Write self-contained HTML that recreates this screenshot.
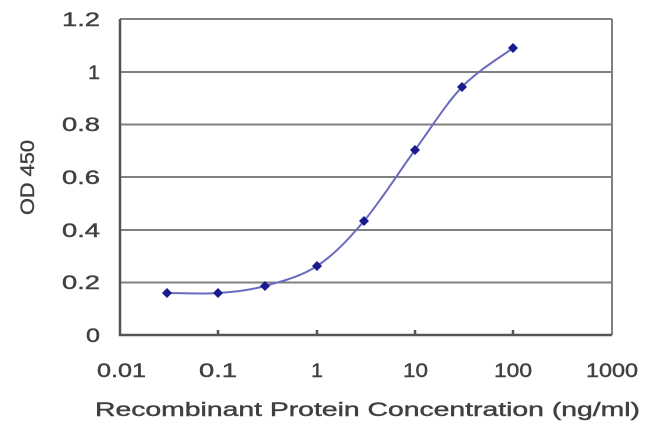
<!DOCTYPE html>
<html><head><style>body{margin:0;background:#fff}svg{display:block}text{font-family:"Liberation Sans",sans-serif;fill:#404040;stroke:#404040;stroke-width:0.4}</style></head>
<body>
<svg width="650" height="432" viewBox="0 0 650 432">
<g stroke="#808080" stroke-width="2">
<line x1="120" y1="19" x2="612" y2="19"/>
<line x1="120" y1="72" x2="612" y2="72"/>
<line x1="120" y1="124.5" x2="612" y2="124.5"/>
<line x1="120" y1="177" x2="612" y2="177"/>
<line x1="120" y1="230" x2="612" y2="230"/>
<line x1="120" y1="282.5" x2="612" y2="282.5"/>
<line x1="612" y1="19" x2="612" y2="335"/>
</g>
<g stroke="#555" stroke-width="2.5">
<line x1="120" y1="19" x2="120" y2="336"/>
<line x1="119" y1="335" x2="612" y2="335"/>
<line x1="218" y1="330" x2="218" y2="335"/><line x1="317" y1="330" x2="317" y2="335"/>
<line x1="415" y1="330" x2="415" y2="335"/><line x1="513" y1="330" x2="513" y2="335"/>
</g>
<path d="M167,293 C175.5,293 201.7,294.2 218,293 C234.3,291.8 248.5,290.5 265,286 C281.5,281.5 300.5,276.8 317,266 C333.5,255.2 347.7,240.3 364,221 C380.3,201.7 398.7,172.3 415,150 C431.3,127.7 445.7,104 462,87 C478.3,70 504.5,54.5 513,48" fill="none" stroke="#6a6ac0" stroke-width="2"/>
<g fill="#1a1a8c">
<path d="M167,288 l5,5 -5,5 -5,-5z"/><path d="M218,288 l5,5 -5,5 -5,-5z"/><path d="M265,281 l5,5 -5,5 -5,-5z"/><path d="M317,261 l5,5 -5,5 -5,-5z"/><path d="M364,216 l5,5 -5,5 -5,-5z"/><path d="M415,145 l5,5 -5,5 -5,-5z"/><path d="M462,82 l5,5 -5,5 -5,-5z"/><path d="M513,43 l5,5 -5,5 -5,-5z"/>
</g>
<g font-size="19" text-anchor="end">
<text x="100" y="26" textLength="38" lengthAdjust="spacingAndGlyphs">1.2</text>
<text x="100" y="79" textLength="12" lengthAdjust="spacingAndGlyphs">1</text>
<text x="100" y="131" textLength="38" lengthAdjust="spacingAndGlyphs">0.8</text>
<text x="100" y="184" textLength="38" lengthAdjust="spacingAndGlyphs">0.6</text>
<text x="100" y="237" textLength="38" lengthAdjust="spacingAndGlyphs">0.4</text>
<text x="100" y="289" textLength="38" lengthAdjust="spacingAndGlyphs">0.2</text>
<text x="100" y="342" textLength="14" lengthAdjust="spacingAndGlyphs">0</text>
</g>
<g font-size="19">
<text x="97" y="377" textLength="49" lengthAdjust="spacingAndGlyphs">0.01</text>
<text x="199" y="377" textLength="38" lengthAdjust="spacingAndGlyphs">0.1</text>
<text x="311" y="377" textLength="12" lengthAdjust="spacingAndGlyphs">1</text>
<text x="403" y="377" textLength="25" lengthAdjust="spacingAndGlyphs">10</text>
<text x="494" y="377" textLength="38" lengthAdjust="spacingAndGlyphs">100</text>
<text x="586" y="377" textLength="52" lengthAdjust="spacingAndGlyphs">1000</text>
<text x="95" y="416" textLength="545" lengthAdjust="spacingAndGlyphs">Recombinant Protein Concentration (ng/ml)</text>
<text transform="translate(34,215) rotate(-90)" textLength="75" lengthAdjust="spacingAndGlyphs">OD 450</text>
</g>
</svg>
</body></html>
